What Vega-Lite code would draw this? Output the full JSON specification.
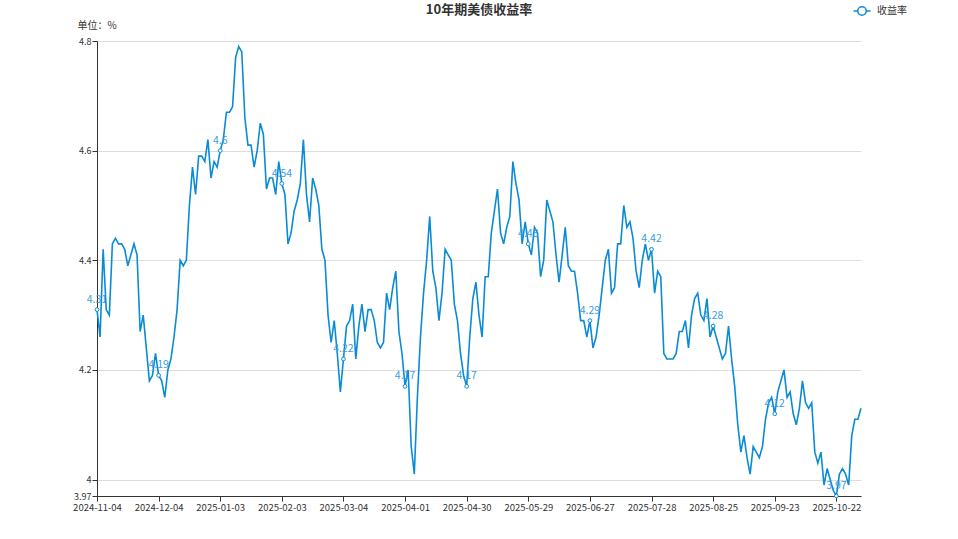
{
"$schema": "https://vega.github.io/schema/vega-lite/v6.json",
"width": 764, "height": 455,
"autosize": {"type": "none"},
"padding": {"left": 97, "top": 41, "right": 97, "bottom": 43},
"background": "white",
"title": {"text": "10年期美债收益率", "fontSize": 13, "fontWeight": "bold", "color": "#333333", "anchor": "middle", "offset": -11, "font": "Noto Sans CJK SC"},
"config": {"view": {"stroke": null}, "font": "Noto Sans CJK SC"},
"data": {"values": [
{"date":"2024-11-04","value":4.31},{"date":"2024-11-05","value":4.26},{"date":"2024-11-06","value":4.42},{"date":"2024-11-07","value":4.31},{"date":"2024-11-08","value":4.30},
{"date":"2024-11-12","value":4.43},{"date":"2024-11-13","value":4.44},{"date":"2024-11-14","value":4.43},{"date":"2024-11-15","value":4.43},{"date":"2024-11-18","value":4.42},
{"date":"2024-11-19","value":4.39},{"date":"2024-11-20","value":4.41},{"date":"2024-11-21","value":4.43},{"date":"2024-11-22","value":4.41},{"date":"2024-11-25","value":4.27},
{"date":"2024-11-26","value":4.30},{"date":"2024-11-27","value":4.24},{"date":"2024-11-29","value":4.18},{"date":"2024-12-02","value":4.19},{"date":"2024-12-03","value":4.23},
{"date":"2024-12-04","value":4.19},{"date":"2024-12-05","value":4.18},{"date":"2024-12-06","value":4.15},{"date":"2024-12-09","value":4.20},{"date":"2024-12-10","value":4.22},
{"date":"2024-12-11","value":4.26},{"date":"2024-12-12","value":4.31},{"date":"2024-12-13","value":4.40},{"date":"2024-12-16","value":4.39},{"date":"2024-12-17","value":4.40},
{"date":"2024-12-18","value":4.50},{"date":"2024-12-19","value":4.57},{"date":"2024-12-20","value":4.52},{"date":"2024-12-23","value":4.59},{"date":"2024-12-24","value":4.59},
{"date":"2024-12-26","value":4.58},{"date":"2024-12-27","value":4.62},{"date":"2024-12-30","value":4.55},{"date":"2024-12-31","value":4.58},{"date":"2025-01-02","value":4.57},
{"date":"2025-01-03","value":4.60},{"date":"2025-01-06","value":4.62},{"date":"2025-01-07","value":4.67},{"date":"2025-01-08","value":4.67},{"date":"2025-01-09","value":4.68},
{"date":"2025-01-10","value":4.77},{"date":"2025-01-13","value":4.79},{"date":"2025-01-14","value":4.78},{"date":"2025-01-15","value":4.66},{"date":"2025-01-16","value":4.61},
{"date":"2025-01-17","value":4.61},{"date":"2025-01-21","value":4.57},{"date":"2025-01-22","value":4.60},{"date":"2025-01-23","value":4.65},{"date":"2025-01-24","value":4.63},
{"date":"2025-01-27","value":4.53},{"date":"2025-01-28","value":4.55},{"date":"2025-01-29","value":4.55},{"date":"2025-01-30","value":4.52},{"date":"2025-01-31","value":4.58},
{"date":"2025-02-03","value":4.54},{"date":"2025-02-04","value":4.52},{"date":"2025-02-05","value":4.43},{"date":"2025-02-06","value":4.45},{"date":"2025-02-07","value":4.49},
{"date":"2025-02-10","value":4.51},{"date":"2025-02-11","value":4.54},{"date":"2025-02-12","value":4.62},{"date":"2025-02-13","value":4.52},{"date":"2025-02-14","value":4.47},
{"date":"2025-02-18","value":4.55},{"date":"2025-02-19","value":4.53},{"date":"2025-02-20","value":4.50},{"date":"2025-02-21","value":4.42},{"date":"2025-02-24","value":4.40},
{"date":"2025-02-25","value":4.30},{"date":"2025-02-26","value":4.25},{"date":"2025-02-27","value":4.29},{"date":"2025-02-28","value":4.23},{"date":"2025-03-03","value":4.16},
{"date":"2025-03-04","value":4.22},{"date":"2025-03-05","value":4.28},{"date":"2025-03-06","value":4.29},{"date":"2025-03-07","value":4.32},{"date":"2025-03-10","value":4.22},
{"date":"2025-03-11","value":4.28},{"date":"2025-03-12","value":4.32},{"date":"2025-03-13","value":4.27},{"date":"2025-03-14","value":4.31},{"date":"2025-03-17","value":4.31},
{"date":"2025-03-18","value":4.29},{"date":"2025-03-19","value":4.25},{"date":"2025-03-20","value":4.24},{"date":"2025-03-21","value":4.25},{"date":"2025-03-24","value":4.34},
{"date":"2025-03-25","value":4.31},{"date":"2025-03-26","value":4.35},{"date":"2025-03-27","value":4.38},{"date":"2025-03-28","value":4.27},{"date":"2025-03-31","value":4.23},
{"date":"2025-04-01","value":4.17},{"date":"2025-04-02","value":4.20},{"date":"2025-04-03","value":4.06},{"date":"2025-04-04","value":4.01},{"date":"2025-04-07","value":4.15},
{"date":"2025-04-08","value":4.26},{"date":"2025-04-09","value":4.34},{"date":"2025-04-10","value":4.40},{"date":"2025-04-11","value":4.48},{"date":"2025-04-14","value":4.38},
{"date":"2025-04-15","value":4.35},{"date":"2025-04-16","value":4.29},{"date":"2025-04-17","value":4.34},{"date":"2025-04-21","value":4.42},{"date":"2025-04-22","value":4.41},
{"date":"2025-04-23","value":4.40},{"date":"2025-04-24","value":4.32},{"date":"2025-04-25","value":4.29},{"date":"2025-04-28","value":4.23},{"date":"2025-04-29","value":4.19},
{"date":"2025-04-30","value":4.17},{"date":"2025-05-01","value":4.26},{"date":"2025-05-02","value":4.33},{"date":"2025-05-05","value":4.36},{"date":"2025-05-06","value":4.30},
{"date":"2025-05-07","value":4.26},{"date":"2025-05-08","value":4.37},{"date":"2025-05-09","value":4.37},{"date":"2025-05-12","value":4.45},{"date":"2025-05-13","value":4.49},
{"date":"2025-05-14","value":4.53},{"date":"2025-05-15","value":4.45},{"date":"2025-05-16","value":4.43},{"date":"2025-05-19","value":4.46},{"date":"2025-05-20","value":4.48},
{"date":"2025-05-21","value":4.58},{"date":"2025-05-22","value":4.54},{"date":"2025-05-23","value":4.51},{"date":"2025-05-27","value":4.43},{"date":"2025-05-28","value":4.47},
{"date":"2025-05-29","value":4.43},{"date":"2025-05-30","value":4.41},{"date":"2025-06-02","value":4.46},{"date":"2025-06-03","value":4.45},{"date":"2025-06-04","value":4.37},
{"date":"2025-06-05","value":4.40},{"date":"2025-06-06","value":4.51},{"date":"2025-06-09","value":4.49},{"date":"2025-06-10","value":4.47},{"date":"2025-06-11","value":4.41},
{"date":"2025-06-12","value":4.36},{"date":"2025-06-13","value":4.41},{"date":"2025-06-16","value":4.46},{"date":"2025-06-17","value":4.39},{"date":"2025-06-18","value":4.38},
{"date":"2025-06-20","value":4.38},{"date":"2025-06-23","value":4.34},{"date":"2025-06-24","value":4.29},{"date":"2025-06-25","value":4.29},{"date":"2025-06-26","value":4.26},
{"date":"2025-06-27","value":4.29},{"date":"2025-06-30","value":4.24},{"date":"2025-07-01","value":4.26},{"date":"2025-07-02","value":4.30},{"date":"2025-07-03","value":4.35},
{"date":"2025-07-07","value":4.40},{"date":"2025-07-08","value":4.42},{"date":"2025-07-09","value":4.34},{"date":"2025-07-10","value":4.35},{"date":"2025-07-11","value":4.43},
{"date":"2025-07-14","value":4.43},{"date":"2025-07-15","value":4.50},{"date":"2025-07-16","value":4.46},{"date":"2025-07-17","value":4.47},{"date":"2025-07-18","value":4.44},
{"date":"2025-07-21","value":4.38},{"date":"2025-07-22","value":4.35},{"date":"2025-07-23","value":4.40},{"date":"2025-07-24","value":4.43},{"date":"2025-07-25","value":4.40},
{"date":"2025-07-28","value":4.42},{"date":"2025-07-29","value":4.34},{"date":"2025-07-30","value":4.38},{"date":"2025-07-31","value":4.37},{"date":"2025-08-01","value":4.23},
{"date":"2025-08-04","value":4.22},{"date":"2025-08-05","value":4.22},{"date":"2025-08-06","value":4.22},{"date":"2025-08-07","value":4.23},{"date":"2025-08-08","value":4.27},
{"date":"2025-08-11","value":4.27},{"date":"2025-08-12","value":4.29},{"date":"2025-08-13","value":4.24},{"date":"2025-08-14","value":4.30},{"date":"2025-08-15","value":4.33},
{"date":"2025-08-18","value":4.34},{"date":"2025-08-19","value":4.30},{"date":"2025-08-20","value":4.29},{"date":"2025-08-21","value":4.33},{"date":"2025-08-22","value":4.26},
{"date":"2025-08-25","value":4.28},{"date":"2025-08-26","value":4.26},{"date":"2025-08-27","value":4.24},{"date":"2025-08-28","value":4.22},{"date":"2025-08-29","value":4.23},
{"date":"2025-09-02","value":4.28},{"date":"2025-09-03","value":4.22},{"date":"2025-09-04","value":4.17},{"date":"2025-09-05","value":4.10},{"date":"2025-09-08","value":4.05},
{"date":"2025-09-09","value":4.08},{"date":"2025-09-10","value":4.04},{"date":"2025-09-11","value":4.01},{"date":"2025-09-12","value":4.06},{"date":"2025-09-15","value":4.05},
{"date":"2025-09-16","value":4.04},{"date":"2025-09-17","value":4.06},{"date":"2025-09-18","value":4.11},{"date":"2025-09-19","value":4.14},{"date":"2025-09-22","value":4.15},
{"date":"2025-09-23","value":4.12},{"date":"2025-09-24","value":4.16},{"date":"2025-09-25","value":4.18},{"date":"2025-09-26","value":4.20},{"date":"2025-09-29","value":4.15},
{"date":"2025-09-30","value":4.16},{"date":"2025-10-01","value":4.12},{"date":"2025-10-02","value":4.10},{"date":"2025-10-03","value":4.13},{"date":"2025-10-06","value":4.18},
{"date":"2025-10-07","value":4.14},{"date":"2025-10-08","value":4.13},{"date":"2025-10-09","value":4.14},{"date":"2025-10-10","value":4.05},{"date":"2025-10-14","value":4.03},
{"date":"2025-10-15","value":4.05},{"date":"2025-10-16","value":3.99},{"date":"2025-10-17","value":4.02},{"date":"2025-10-20","value":4.00},{"date":"2025-10-21","value":3.98},
{"date":"2025-10-22","value":3.97},{"date":"2025-10-23","value":4.01},{"date":"2025-10-24","value":4.02},{"date":"2025-10-27","value":4.01},{"date":"2025-10-28","value":3.99},
{"date":"2025-10-29","value":4.08},{"date":"2025-10-30","value":4.11},{"date":"2025-10-31","value":4.11},{"date":"2025-11-03","value":4.13}
]},
"layer": [
{"mark": {"type": "line", "strokeWidth": 1.6, "interpolate": "linear"},
 "encoding": {
  "x": {"field": "date", "type": "ordinal", "scale": {"type": "point", "padding": 0},
   "axis": {"values": ["2024-11-04","2024-12-04","2025-01-03","2025-02-03","2025-03-04","2025-04-01","2025-04-30","2025-05-29","2025-06-27","2025-07-28","2025-08-25","2025-09-23","2025-10-22"],
    "labelAngle": 0, "title": null, "grid": false, "domainColor": "#333333", "tickColor": "#333333", "tickSize": 5, "labelFontSize": 9.5, "labelColor": "#333333", "labelPadding": 1}},
  "y": {"field": "value", "type": "quantitative", "scale": {"domain": [3.97, 4.8], "nice": false, "zero": false},
   "axis": {"values": [3.97, 4, 4.2, 4.4, 4.6, 4.8], "format": "~g", "title": "单位：%", "titleAngle": 0, "titleX": -20, "titleY": -16, "titleAlign": "left", "titleBaseline": "middle", "titleFontWeight": "normal", "titleFontSize": 10, "titleColor": "#333333",
    "gridColor": "#dddddd", "domainColor": "#333333", "tickColor": "#333333", "tickSize": 5, "labelFontSize": 9, "labelColor": "#333333", "labelPadding": 1}},
  "color": {"datum": "收益率", "type": "nominal", "scale": {"range": ["#0a8bd5"]},
   "legend": {"orient": "none", "legendX": 760, "legendY": -35, "title": null, "symbolType": "M-2,0L-1,0M1,0L2,0M1,0A1,1,0,1,1,-1,0A1,1,0,1,1,1,0", "symbolSize": 72, "symbolStrokeWidth": 1.5, "symbolStrokeColor": "#3ba1e0", "symbolFillColor": "white", "labelFontSize": 10, "labelColor": "#333333", "labelOffset": 10}}
 }},
{"transform": [{"filter": {"field": "date", "oneOf": ["2024-11-04","2024-12-04","2025-01-03","2025-02-03","2025-03-04","2025-04-01","2025-04-30","2025-05-29","2025-06-27","2025-07-28","2025-08-25","2025-09-23","2025-10-22"]}}],
 "mark": {"type": "point", "shape": "circle", "size": 14, "filled": true, "fill": "white", "stroke": "#0a8bd5", "strokeWidth": 1, "opacity": 1},
 "encoding": {"x": {"field": "date", "type": "ordinal"}, "y": {"field": "value", "type": "quantitative"}}},
{"transform": [{"filter": {"field": "date", "oneOf": ["2024-11-04","2024-12-04","2025-01-03","2025-02-03","2025-03-04","2025-04-01","2025-04-30","2025-05-29","2025-06-27","2025-07-28","2025-08-25","2025-09-23","2025-10-22"]}}],
 "mark": {"type": "text", "dy": -10, "fontSize": 10.5, "color": "#3a9ee0"},
 "encoding": {"x": {"field": "date", "type": "ordinal"}, "y": {"field": "value", "type": "quantitative"}, "text": {"field": "value", "type": "quantitative", "format": "~g"}}}
]
}
